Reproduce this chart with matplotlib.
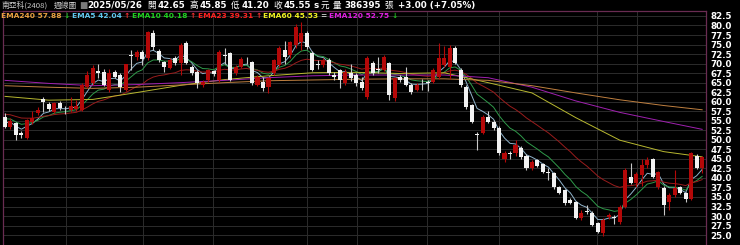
"""
南亞科 (2408) weekly candles with EMA lines – dark terminal style
"""

import matplotlib
matplotlib.use("Agg")
import matplotlib.pyplot as plt
import numpy as np

# -------------------------------------------------------------------
# Data
# -------------------------------------------------------------------
opens = [56.0, 53.4, 54.4, 51.8, 50.5, 54.7, 57.0, 60.7, 59.4, 57.3,
         59.7, 58.2, 57.8, 58.0, 57.8, 63.9, 65.0, 68.0, 67.8, 63.0,
         67.8, 67.0, 63.0, 72.3, 71.7, 73.0, 71.5, 78.0, 73.3, 70.4,
         68.8, 71.5, 70.2, 75.4, 69.1, 67.8, 64.4, 65.7, 68.0, 65.7,
         72.3, 72.8, 67.5, 69.1, 70.5, 70.4, 64.4, 65.2, 63.9, 67.5,
         69.6, 73.6, 72.3, 74.9, 75.7, 78.0, 72.8, 69.8, 69.6, 71.0,
         67.0, 68.3, 64.9, 67.5, 67.0, 65.2, 61.2, 70.2, 68.5, 68.3,
         70.2, 61.0, 66.5, 66.5, 64.4, 63.1, 65.0, 65.2, 65.2, 66.5,
         69.6, 69.1, 74.1, 68.3, 63.9, 59.1, 51.5, 51.8, 56.0, 54.7,
         53.1, 44.9, 46.6, 46.5, 47.9, 45.75, 42.6, 44.7, 43.6, 41.6,
         41.3, 37.6, 36.8, 34.3, 33.7, 29.5, 31.3, 30.8, 28.2, 25.5,
         29.7, 29.8, 28.5, 32.4, 40.3, 38.7, 40.8, 43.4, 45.0, 37.6,
         37.4, 33.7, 35.5, 37.6, 36.0, 34.5, 45.75, 42.65]
highs = [57.0, 55.8, 54.8, 52.4, 55.5, 57.5, 58.5, 61.2, 59.8, 60.0,
         60.2, 58.8, 61.2, 60.5, 64.8, 68.0, 69.5, 69.9, 68.5, 68.5,
         68.3, 67.5, 70.0, 73.6, 73.5, 73.5, 78.5, 78.8, 73.8, 70.8,
         71.5, 72.0, 75.4, 75.8, 69.6, 68.2, 65.8, 68.5, 68.4, 73.5,
         74.0, 73.0, 69.5, 71.8, 71.8, 70.8, 67.0, 66.5, 66.4, 71.3,
         74.5, 76.0, 76.0, 80.5, 80.8, 78.5, 73.2, 71.0, 71.5, 71.5,
         67.8, 68.6, 68.5, 69.8, 67.5, 66.5, 72.0, 70.8, 71.8, 72.3,
         70.5, 66.5, 67.0, 69.0, 64.8, 64.8, 66.0, 65.6, 68.8, 75.4,
         74.5, 75.0, 74.5, 68.8, 64.3, 59.5, 52.0, 56.5, 57.5, 55.2,
         53.5, 47.0, 47.0, 50.0, 48.3, 46.2, 44.6, 45.0, 44.0, 42.5,
         41.6, 38.0, 37.2, 34.8, 34.0, 31.5, 33.0, 31.2, 28.5, 29.5,
         30.7, 30.3, 33.0, 42.5, 43.9, 41.5, 45.0, 45.5, 45.3, 41.8,
         37.8, 36.0, 42.1, 38.0, 36.4, 46.8, 46.2, 45.85]
lows = [53.1, 52.8, 50.0, 50.5, 50.3, 54.2, 56.5, 57.3, 57.5, 57.0,
        57.8, 56.8, 57.3, 57.5, 57.5, 63.5, 64.5, 66.2, 64.0, 62.5,
        66.2, 62.6, 62.8, 68.3, 71.0, 69.5, 71.0, 73.6, 70.5, 67.8,
        68.5, 69.5, 67.0, 70.0, 67.0, 63.6, 63.8, 65.2, 66.8, 65.3,
        70.0, 65.5, 67.0, 68.8, 69.8, 64.5, 64.0, 62.8, 62.3, 67.0,
        69.0, 70.0, 71.5, 74.0, 73.5, 73.8, 68.0, 68.5, 69.0, 67.0,
        65.8, 63.5, 64.5, 65.5, 64.0, 63.0, 60.8, 67.0, 67.5, 68.0,
        60.5, 60.3, 65.3, 64.0, 62.0, 62.8, 63.2, 62.8, 64.8, 66.0,
        69.0, 66.0, 69.8, 63.8, 58.2, 54.3, 47.3, 51.4, 54.3, 52.7,
        46.0, 44.3, 45.0, 45.8, 45.0, 42.2, 42.2, 42.8, 41.2, 39.5,
        37.2, 35.8, 33.0, 33.2, 29.2, 29.0, 30.5, 27.3, 25.5, 24.8,
        29.3, 27.8, 28.0, 32.0, 38.5, 37.5, 38.0, 42.6, 40.0, 37.2,
        30.3, 31.5, 35.0, 35.8, 33.8, 34.3, 42.3, 41.20]
closes = [53.4, 55.0, 51.3, 51.3, 55.2, 55.7, 57.8, 59.9, 58.1, 59.7,
          58.4, 58.0, 58.9, 59.0, 64.4, 67.0, 68.8, 67.6, 64.4, 67.5,
          66.5, 63.9, 69.8, 72.0, 73.0, 71.2, 78.3, 74.4, 71.0, 69.1,
          71.0, 70.2, 74.9, 70.2, 67.5, 64.9, 65.2, 68.3, 67.2, 73.0,
          72.0, 65.7, 69.1, 71.2, 70.3, 64.9, 66.5, 63.6, 66.2, 71.0,
          74.1, 71.7, 75.7, 79.6, 78.0, 74.4, 68.3, 69.6, 71.0, 67.5,
          66.5, 65.7, 67.8, 66.2, 64.9, 63.6, 71.5, 67.5, 68.3, 71.7,
          61.8, 66.2, 65.7, 64.4, 62.6, 64.4, 64.8, 65.0, 68.3, 71.5,
          71.5, 74.1, 70.2, 64.4, 58.6, 54.7, 51.3, 56.0, 54.7, 53.1,
          46.5, 46.5, 46.3, 48.6, 45.5, 42.6, 44.2, 43.1, 41.5, 41.3,
          37.6, 36.0, 33.4, 33.4, 29.5, 30.8, 31.1, 27.6, 25.8, 29.0,
          30.3, 29.5, 32.4, 42.1, 38.7, 41.0, 43.4, 44.7, 40.3, 41.5,
          33.0, 35.5, 37.4, 36.0, 34.5, 46.5, 42.55, 45.55]

ema_periods = [5, 10, 23]
ema_start = [55.0, 56.0, 57.0]

# long EMAs: history before the window is missing, so read them every 8 weeks
long_ema_weeks = [0, 8, 16, 24, 32, 40, 48, 56, 64, 72, 80, 88, 96, 104, 112, 120, 127]
ema60 = [61.4, 60.4, 60.6, 62.4, 64.3, 65.8, 66.8, 67.6, 67.7, 67.4, 67.6, 65.0,
         62.3, 55.8, 49.9, 46.9, 45.53]
ema120 = [65.6, 64.8, 64.2, 64.5, 65.0, 65.6, 66.3, 66.8, 67.0, 67.0, 67.0, 66.3,
          63.8, 60.2, 57.2, 54.8, 52.75]
ema240 = [64.2, 63.8, 63.5, 63.8, 64.4, 65.0, 65.5, 65.7, 65.9, 66.0, 66.0, 65.6,
          64.2, 62.3, 60.5, 59.0, 57.88]

# weeks where the chart draws its vertical separators
sep_weeks = [11.1, 25.1, 37.9, 55.0, 64.1, 76.9, 90.0, 107.9, 115.2]

price_ticks = np.arange(25.0, 82.6, 2.5)

# header: (text, x px, colour, kind)  kind: name / cjk / num
header_parts = [
    ("南亞科(2408)", 1, "#c8c8c8", "name"),
    ("週線圖", 54, "#c8c8c8", "name"),
    ("■", 79, "#7a7a7a", "num"),
    ("2025/05/26", 87, "white", "num"),
    ("開", 147, "white", "cjk"),
    ("42.65", 158, "white", "num"),
    ("高", 189, "white", "cjk"),
    ("45.85", 200, "white", "num"),
    ("低", 231, "white", "cjk"),
    ("41.20", 242, "white", "num"),
    ("收", 273, "white", "cjk"),
    ("45.55", 284, "white", "num"),
    ("s", 313, "white", "num"),
    ("元", 321, "white", "cjk"),
    ("量", 333, "white", "cjk"),
    ("386395", 344, "white", "num"),
    ("張", 384, "white", "cjk"),
    ("+3.00 (+7.05%)", 398, "white", "num"),
]

legend_parts = [
    ("EMA240 57.88", "↓", 1, "#e8a040", "#20c020"),
    ("EMA5 42.04", "↑", 72, "#60c8f0", "#ff3030"),
    ("EMA10 40.18", "↑", 132, "#20d020", "#ff3030"),
    ("EMA23 39.31", "↑", 198, "#ff2020", "#ff3030"),
    ("EMA60 45.53", "=", 263, "#f0f020", "#d0d0d0"),
    ("EMA120 52.75", "↓", 329, "#e020e0", "#20c020"),
]

W, H = 740, 245
CJK = ["Noto Sans CJK TC", "DejaVu Sans"]


def ema(values, period, start):
    alpha = 2.0 / (period + 1)
    out = []
    prev = start
    for v in values:
        prev = prev + alpha * (v - prev)
        out.append(prev)
    return np.array(out)


# -------------------------------------------------------------------
# Plot
# -------------------------------------------------------------------
o = np.array(opens)
h = np.array(highs)
l = np.array(lows)
c = np.array(closes)
idx = np.arange(len(c))
up = c >= o

fig = plt.figure(figsize=(W / 100, H / 100), dpi=100, facecolor="black")
ax = fig.add_axes([3 / W, 0, 703 / W, 234 / H])
ax.set_facecolor("black")

for y in price_ticks:
    ax.axhline(y, color="#2c2c2c", lw=0.7, zorder=0)
for x in sep_weeks:
    ax.axvline(x, color="#2c2c2c", lw=0.7, zorder=0)

# EMA lines
short_cols = ["#90b4cc", "#2f9a4a", "#9a1c1c"]
for p, s, col in zip(ema_periods, ema_start, short_cols):
    ax.plot(idx, ema(c, p, s), color=col, lw=0.7, zorder=2)
ax.plot(long_ema_weeks, ema60, color="#b8b830", lw=0.7, zorder=2)
ax.plot(long_ema_weeks, ema120, color="#a020b0", lw=0.7, zorder=2)
ax.plot(long_ema_weeks, ema240, color="#c08040", lw=0.7, zorder=2)

# candles
red = "#b40808"
white = "#f2f2f2"
ax.vlines(idx[up], l[up], h[up], color=red, lw=0.8, zorder=3)
ax.vlines(idx[~up], l[~up], h[~up], color="#c8c8c8", lw=0.8, zorder=3)
body_lo = np.minimum(o, c)
body_h = np.maximum(np.abs(c - o), 0.18)
ax.bar(idx[up], body_h[up], bottom=body_lo[up], width=0.74, color=red, lw=0, zorder=4)
ax.bar(idx[~up], body_h[~up], bottom=body_lo[~up], width=0.74, color=white, lw=0, zorder=4)

ax.set_xlim(-0.36, 127.7)
ax.set_ylim(22.4, 83.8)
ax.set_xticks([])
ax.yaxis.tick_right()
ax.set_yticks(price_ticks)
ax.set_yticklabels([f"{t:.1f}" for t in price_ticks], color="white",
                   fontsize=6.3, fontweight="bold")
ax.tick_params(axis="y", length=0, pad=3)
for side in ["left", "right", "top"]:
    ax.spines[side].set_color("#6a2c52")
    ax.spines[side].set_linewidth(0.9)
ax.spines["bottom"].set_visible(False)

# header line
for txt, x, col, kind in header_parts:
    if kind == "name":
        fig.text(x / W, 1 - 5.5 / H, txt, color=col, fontsize=5.6, family=CJK,
                 va="center", ha="left")
    elif kind == "cjk":
        fig.text(x / W, 1 - 5.5 / H, txt, color=col, fontsize=6.2, family=CJK,
                 va="center", ha="left")
    else:
        fig.text(x / W, 1 - 5.5 / H, txt, color=col, fontsize=6.3, fontweight="bold",
                 va="center", ha="left")

# legend line inside the plot
fig.canvas.draw()
for txt, arrow, x, col, acol in legend_parts:
    t = fig.text(x / W, 1 - 16 / H, txt, color=col, fontsize=5.4, fontweight="bold",
                 va="center", ha="left")
    bb = t.get_window_extent(renderer=fig.canvas.get_renderer())
    fig.text((bb.x1 + 2) / W, 1 - 16 / H, arrow, color=acol, fontsize=5.4,
             fontweight="bold", va="center", ha="left")

fig.savefig("out.png", dpi=100, facecolor="black")
